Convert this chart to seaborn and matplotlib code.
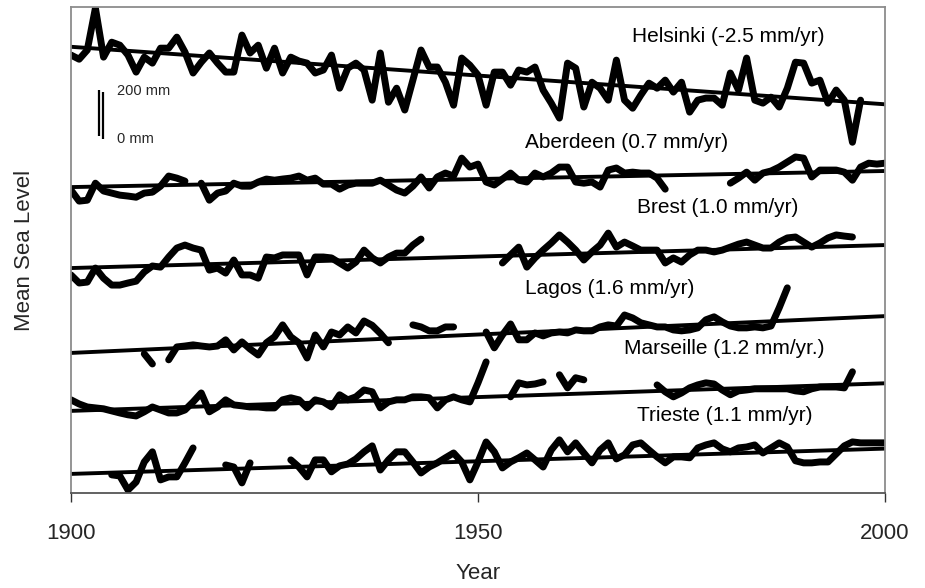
import numpy as np
import pandas as pd
import matplotlib
matplotlib.use("Agg")
import matplotlib.pyplot as plt
import seaborn as sns

nan = np.nan
years = np.arange(1900, 2001)

stations = ["Helsinki", "Aberdeen", "Brest", "Lagos", "Marseille", "Trieste"]
rates = [-2.5, 0.7, 1.0, 1.6, 1.2, 1.1]  # mm/yr
labels = ["Helsinki (-2.5 mm/yr)", "Aberdeen (0.7 mm/yr)", "Brest (1.0 mm/yr)",
          "Lagos (1.6 mm/yr)", "Marseille (1.2 mm/yr.)", "Trieste (1.1 mm/yr)"]

# annual mean sea level, mm relative to each station's 1900 trend value
helsinki = [
    -36, -54, -14, 168, -45, 20, 7, -36, -110, -45,
    -71, -6, -6, 42, -23, -114, -67, -27, -71, -110,
    -110, 51, -27, 7, -93, -6, -114, -45, -62, -71,
    -114, -101, -36, -180, -93, -71, -101, -232, -27, -241,
    -180, -275, -145, -14, -88, -88, -154, -254, -49, -80,
    -123, -254, -110, -110, -167, -101, -110, -88, -188, -245,
    -310, -71, -93, -262, -154, -180, -232, -58, -232, -267,
    -210, -158, -180, -145, -197, -154, -284, -232, -223, -223,
    -254, -114, -188, -49, -232, -245, -219, -262, -180, -67,
    -71, -158, -145, -245, -188, -232, -415, -232, nan, nan,
    nan]
aberdeen = [
    -13, -61, -57, 17, -17, -26, -35, -39, -44, -26,
    -22, 4, 48, 39, 26, nan, 17, -57, -26, -17,
    17, 4, 4, 22, 35, 30, 35, 39, 48, 30,
    39, 13, 13, -9, 9, 17, 17, 17, 30, 9,
    -13, -26, 4, 44, -4, 44, 61, 48, 126, 87,
    100, 22, 9, 35, 61, 30, 22, 61, 44, 61,
    87, 87, 22, 17, 22, 0, 74, 83, 61, 65,
    61, 61, 39, -9, nan, nan, nan, nan, nan, nan,
    nan, 17, 39, 65, 30, 61, 70, 87, 109, 131,
    126, 44, 74, 74, 74, 65, 30, 87, 104, 100,
    104]
brest = [
    -30, -65, -61, 0, -44, -74, -74, -65, -57, -17,
    9, 4, 48, 87, 100, 87, 78, -9, 0, -22,
    35, -30, -30, -44, 48, 44, 57, 57, 57, -30,
    48, 48, 44, 22, 0, 26, 78, 44, 22, 48,
    65, 65, 100, 126, nan, nan, nan, nan, nan, nan,
    nan, nan, nan, 22, 57, 91, 4, 44, 78, 109,
    144, 113, 78, 35, 70, 100, 152, 91, 113, 96,
    78, 78, 78, 22, 44, 26, 57, 78, 78, 70,
    78, 91, 104, 113, 100, 87, 87, 113, 131, 135,
    113, 91, 109, 131, 144, 139, 135, nan, nan, nan,
    nan]
lagos = [
    nan, nan, nan, nan, nan, nan, nan, nan, nan, -4,
    -48, nan, -30, 26, 30, 35, 30, 26, 30, 57,
    13, 48, 17, -9, 44, 70, 122, 70, 44, -22,
    78, 26, 91, 78, 113, 87, 139, 120, 85, 44,
    nan, nan, 122, 113, 96, 96, 113, 113, nan, nan,
    nan, 91, 22, 78, 126, 57, 57, 87, 74, 87,
    91, 87, 100, 96, 96, 113, 122, 117, 165, 152,
    131, 122, 113, 113, 100, 96, 100, 109, 144, 157,
    135, 117, 109, 109, 113, 109, 117, 196, 283, nan,
    nan, nan, nan, nan, nan, nan, nan, nan, nan, nan,
    nan]
marseille = [
    48, 30, 17, 13, 9, 0, -9, -17, -22, -4,
    17, 4, -9, -9, 4, 39, 78, -4, 17, 48,
    26, 22, 17, 17, 13, 13, 48, 57, 48, 13,
    48, 39, 17, 70, 48, 61, 91, 83, 13, 39,
    48, 48, 61, 61, 57, 13, 48, 61, 48, 39,
    122, 213, nan, nan, 61, 122, 113, 117, 126, nan,
    157, 100, 144, 135, nan, nan, nan, nan, nan, nan,
    nan, nan, 113, 83, 61, 78, 100, 113, 122, 117,
    91, 70, 87, 91, 96, 96, 96, 96, 96, 87,
    83, 96, 104, 104, 104, 100, 170, nan, nan, nan,
    nan]
trieste = [
    nan, nan, nan, nan, nan, -4, -9, -70, -35, 52,
    96, -26, -13, -13, 48, 113, nan, nan, nan, 39,
    30, -39, 48, nan, nan, nan, nan, 61, 30, -13,
    61, 61, 9, 35, 43, 65, 96, 122, 17, 61,
    96, 96, 52, 4, 30, 48, 70, 91, 52, -26,
    52, 139, 96, 26, 52, 70, 91, 61, 30, 104,
    148, 96, 135, 91, 48, 104, 135, 65, 83, 126,
    135, 104, 74, 48, 74, 74, 70, 113, 126, 135,
    109, 96, 113, 117, 126, 91, 113, 135, 117, 57,
    48, 48, 52, 52, 87, 122, 139, 135, 135, 135,
    135]

series = [helsinki, aberdeen, brest, lagos, marseille, trieste]

# vertical stacking of the curves (display mm) and label placement
offsets = [1940, 1330, 978, 609, 357, 83]
label_xy = [(1980.8, 1983), (1968.3, 1522), (1979.5, 1243),
            (1966.2, 891), (1980.3, 630), (1980.3, 339)]

rows = []
for name, vals, off in zip(stations, series, offsets):
    for yr, v in zip(years, vals):
        rows.append({"station": name, "year": yr, "level": v, "disp": off + v})
df = pd.DataFrame(rows)
df["seg"] = df.groupby("station")["level"].transform(lambda s: s.isna().cumsum())
df["unit"] = df["station"] + "_" + df["seg"].astype(str)
df = df.dropna(subset=["level"])

trend = pd.DataFrame([{"station": n, "year": yr, "disp": off + r * (yr - 1900)}
                      for n, r, off in zip(stations, rates, offsets) for yr in (1900, 2000)])

sns.set_theme(style="white")
plt.rcParams["font.family"] = ["Liberation Sans", "DejaVu Sans"]

fig, ax = plt.subplots(figsize=(9.25, 5.88), dpi=100)
fig.subplots_adjust(left=71 / 925, right=885 / 925, top=1 - 7 / 588, bottom=1 - 493 / 588)

sns.lineplot(data=df, x="year", y="disp", units="unit", estimator=None, color="black",
             lw=5, ax=ax, legend=False, sort=True,
             solid_joinstyle="round", solid_capstyle="round")
sns.lineplot(data=trend, x="year", y="disp", units="station", estimator=None,
             color="black", lw=2.8, ax=ax, legend=False)

for lab, (lx, ly) in zip(labels, label_xy):
    ax.text(lx, ly, lab, ha="center", va="center", fontsize=15, color="black")

# 200 mm scale bar
ax.plot([1903.4, 1903.4], [1550, 1750], color="black", lw=1.6, solid_capstyle="butt")
ax.plot([1903.9, 1903.9], [1540, 1745], color="black", lw=1.6, solid_capstyle="butt")
ax.text(1905.6, 1748, "200 mm", ha="left", va="center", fontsize=10.5)
ax.text(1905.6, 1539, "0 mm", ha="left", va="center", fontsize=10.5)

ax.set_xlim(1900, 2000)
ax.set_ylim(0, 2113)
ax.set_xticks([1900, 1950, 2000])
ax.set_yticks([])
ax.tick_params(axis="x", direction="out", length=6.5, width=1, color="#333333",
               labelsize=16, pad=15, bottom=True)
ax.set_xlabel("Year", fontsize=16, labelpad=14)
ax.set_ylabel("Mean Sea Level", fontsize=16, labelpad=26)
for sp in ax.spines.values():
    sp.set_color("#8c8c8c")
    sp.set_linewidth(1.3)
ax.spines["bottom"].set_color("#555555")

fig.savefig("out.png", dpi=100)
